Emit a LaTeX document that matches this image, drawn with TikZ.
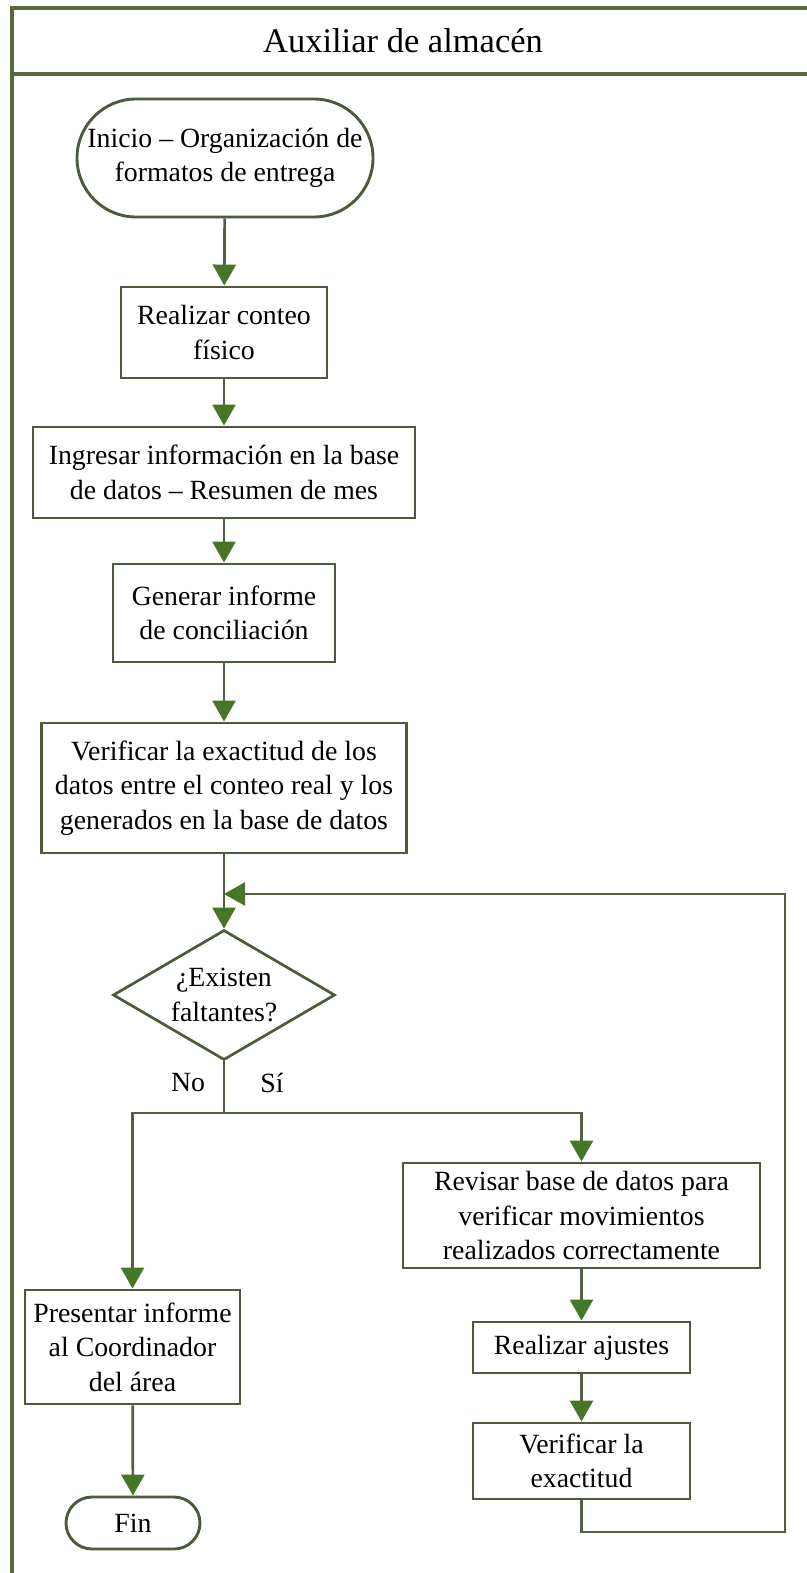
\documentclass[tikz,border=0pt]{standalone}
\usepackage{fontspec}
\setmainfont{Liberation Serif}
\usetikzlibrary{arrows.meta,shapes.geometric}

\definecolor{framecol}{RGB}{88,104,60}
\definecolor{boxcol}{RGB}{76,90,62}
\definecolor{linecol}{RGB}{82,96,70}
\definecolor{tipcol}{RGB}{70,118,40}

\tikzset{
  x=1pt, y=-1pt,
  every node/.style={font=\fontsize{27.8}{34.5}\selectfont, text=black, inner sep=2pt},
  procbox/.style={draw=boxcol, line width=2.9pt, fill=white, rectangle, align=center},
  termbox/.style={procbox, rounded corners=#1},
  decbox/.style={draw=boxcol, line width=2.7pt, fill=white, diamond, aspect=1.7,
                 inner sep=0pt, align=center, minimum width=222pt, minimum height=130pt},
  conn/.style={draw=linecol, line width=2.7pt},
  flow/.style={conn, -{Triangle[length=21pt, width=23pt, color=tipcol, fill=tipcol]}},
  edgelabel/.style={inner sep=0pt},
}

\begin{document}
\begin{tikzpicture}
  % page and swimlane frame
  \fill[white] (0,0) rectangle (806,1573);
  \useasboundingbox (0,0) rectangle (806,1573);
  \draw[framecol, line width=3.8pt] (812,8) -- (12,8) -- (12,1580);
  \draw[framecol, line width=3.8pt] (12,74) -- (812,74);
  \node[font=\fontsize{34.5}{40}\selectfont] (title) at (403,41) {Auxiliar de almacén};

  % main column
  \node[termbox=59pt, minimum width=296pt, minimum height=118pt] (start) at (225,158)
    {Inicio – Organización de\\formatos de entrega};
  \node[procbox, minimum width=206pt, minimum height=91pt] (conteo) at (224,332.5)
    {Realizar conteo\\físico};
  \node[procbox, minimum width=382pt, minimum height=91pt] (ingresar) at (224,472.5)
    {Ingresar información en la base\\de datos – Resumen de mes};
  \node[procbox, minimum width=222pt, minimum height=98pt] (informe) at (224,613)
    {Generar informe\\de conciliación};
  \node[procbox, minimum width=365pt, minimum height=130pt] (verdatos) at (224,788)
    {Verificar la exactitud de los\\datos entre el conteo real y los\\generados en la base de datos};
  \node[decbox] (faltan) at (224,995) {¿Existen\\faltantes?};

  % "Sí" branch
  \node[procbox, minimum width=357pt, minimum height=105pt] (revisar) at (581.5,1215.5)
    {Revisar base de datos para\\verificar movimientos\\realizados correctamente};
  \node[procbox, minimum width=217pt, minimum height=51pt] (ajustes) at (581.5,1347.5)
    {Realizar ajustes};
  \node[procbox, minimum width=217pt, minimum height=76pt] (verexact) at (581.5,1461)
    {Verificar la\\exactitud};

  % "No" branch
  \node[procbox, minimum width=215pt, minimum height=114pt] (presentar) at (132.5,1347)
    {Presentar informe\\al Coordinador\\del área};
  \node[termbox=26pt, minimum width=134pt, minimum height=52pt] (fin) at (133,1523) {Fin};

  % branch labels
  \node[edgelabel] (lno) at (188,1083) {No};
  \node[edgelabel] (lsi) at (272,1083) {Sí};

  % helper points
  \coordinate (join) at (224,894);
  \coordinate (split) at (224,1113);
  \coordinate (loopcorner) at (785,1532);

  % connectors
  \draw[flow] (start) -- (conteo);
  \draw[flow] (conteo) -- (ingresar);
  \draw[flow] (ingresar) -- (informe);
  \draw[flow] (informe) -- (verdatos);
  \draw[flow] (verdatos) -- (faltan);
  \draw[conn] (faltan.south) -- (split);
  \draw[flow] (split) -| (presentar.north);
  \draw[flow] (split) -| (revisar.north);
  \draw[flow] (revisar) -- (ajustes);
  \draw[flow] (ajustes) -- (verexact);
  \draw[flow] (presentar) -- (fin);
  \draw[flow] (verexact.south) |- (loopcorner) |- (join);
\end{tikzpicture}
\end{document}
